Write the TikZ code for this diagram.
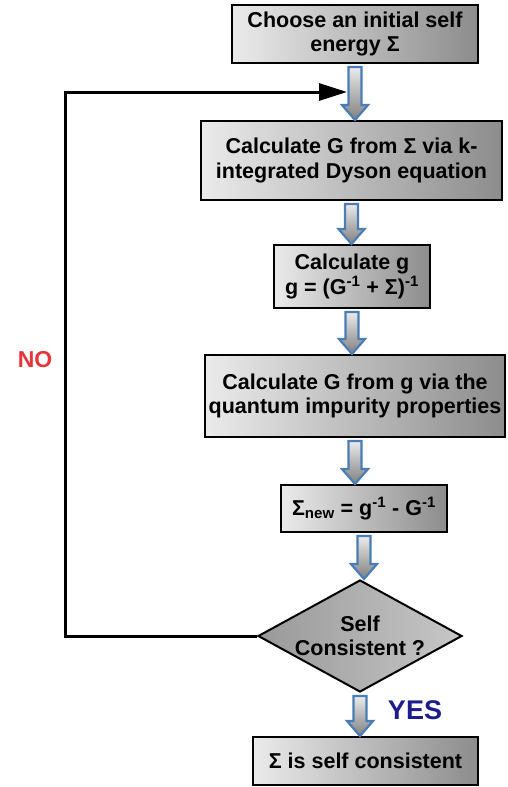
\documentclass[tikz,border=0pt]{standalone}
\usepackage{fontspec}
\setmainfont{Liberation Sans}
\usepackage{tikz}
\usetikzlibrary{arrows.meta,calc,shapes.geometric}
\definecolor{arrowblue}{HTML}{4A7DB5}
\definecolor{nored}{HTML}{E8353B}
\definecolor{yesblue}{HTML}{1C1C8C}
\tikzset{
  stepbox/.style={draw=black,line width=2pt,left color=black!8,right color=black!45,align=center,
    font=\fontsize{21.5}{24.5}\selectfont\bfseries,inner sep=0pt},
  decision/.style={stepbox,diamond,aspect=1.82,left color=black!40,right color=black!22},
  flowarrow/.style={draw=arrowblue,line width=2.2pt,top color=black!8,bottom color=black!50,line join=miter},
  loopline/.style={-{Triangle[length=28pt,width=17pt]},line width=3pt},
  answer/.style={font=\fontsize{25}{30}\selectfont\bfseries},
}
\newcommand{\blockarrow}[2]{%
  \path[flowarrow] let \p1=($(#1.south)+(0,3)$), \p2=(#2.north) in
    (\x1-6.5pt,\y1) -- (\x1+6.5pt,\y1) -- (\x1+6.5pt,\y2+15pt) -- (\x1+13pt,\y2+15pt)
    -- (\x1,\y2) -- (\x1-13pt,\y2+15pt) -- (\x1-6.5pt,\y2+15pt) -- cycle;}

\begin{document}
\begin{tikzpicture}[x=1pt,y=-1pt]
  \useasboundingbox (0,0) rectangle (508,787);
  % steps of the loop
  \node[stepbox,minimum width=246pt,minimum height=58pt] (init) at (355,34) {Choose an initial self\\energy Σ};
  \node[stepbox,minimum width=301pt,minimum height=79pt] (dyson) at (351.5,160.5) {Calculate G from Σ via k-\\integrated Dyson equation};
  \node[stepbox,minimum width=156pt,minimum height=63pt] (bath) at (352,276.5) {Calculate g\\g = (G\textsuperscript{-1} + Σ)\textsuperscript{-1}};
  \node[stepbox,minimum width=300pt,minimum height=82pt] (impurity) at (355,396) {Calculate G from g via the\\quantum impurity properties};
  \node[stepbox,minimum width=166pt,minimum height=47pt] (update) at (364,508.5) {Σ\textsubscript{new} = g\textsuperscript{-1} - G\textsuperscript{-1}};
  \node[decision,minimum width=204pt,minimum height=112pt] (check) at (360,636) {Self\\Consistent ?};
  \node[stepbox,minimum width=225pt,minimum height=48pt] (done) at (365.5,761) {Σ is self consistent};
  % block arrows
  \blockarrow{init}{dyson}
  \blockarrow{dyson}{bath}
  \blockarrow{bath}{impurity}
  \blockarrow{impurity}{update}
  \blockarrow{update}{check}
  \blockarrow{check}{done}
  % feedback loop
  \coordinate (loopin) at (347,92);
  \draw[loopline] (check.west) -- (65,636) |- (loopin);
  \node[answer,text=nored,font=\fontsize{23}{28}\selectfont\bfseries] (no) at (35,360) {NO};
  \node[answer,text=yesblue,font=\fontsize{27}{32}\selectfont\bfseries] (yes) at (415,710) {YES};
\end{tikzpicture}
\end{document}
